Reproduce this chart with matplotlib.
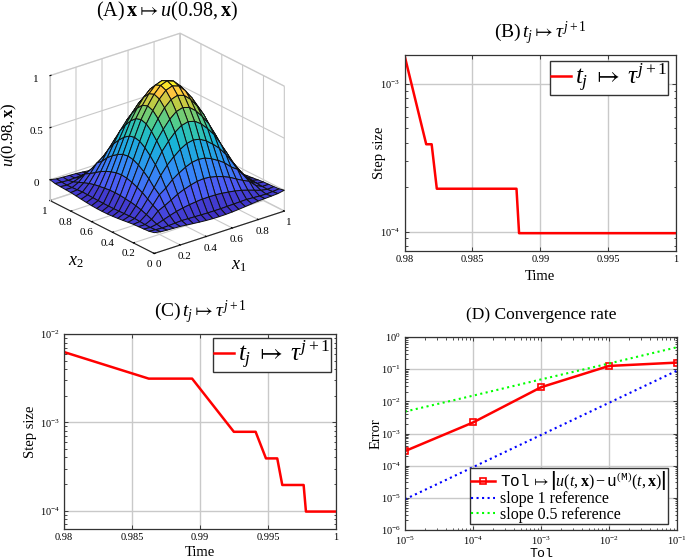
import numpy as np
import matplotlib
matplotlib.use('Agg')
import matplotlib.pyplot as plt
from matplotlib.colors import LinearSegmentedColormap, Normalize
from matplotlib.ticker import LogLocator, NullFormatter

plt.rcParams['font.family'] = ['Liberation Serif', 'DejaVu Serif']
plt.rcParams['mathtext.fontset'] = 'custom'
plt.rcParams['mathtext.rm'] = 'Liberation Serif'
plt.rcParams['mathtext.it'] = 'Liberation Serif:italic'
plt.rcParams['mathtext.bf'] = 'Liberation Serif:bold'
plt.rcParams['mathtext.tt'] = 'Liberation Mono'
plt.rcParams['mathtext.fallback'] = 'stix'

W, H = 685, 559
GRID = '#c9c9c9'

# panel A, one quarter of the surface (edge -> centre)
u_quarter = np.array([
    [0.000, -.012, -.016, -.019, -.022, -.028, -.035, -.041, -.046, -.049, -.050],
    [-.012, -.018, -.022, -.020, -.016, -.012, -.014, -.016, -.018, -.020, -.020],
    [-.016, -.022, -.011, 0.010, 0.031, 0.050, 0.064, 0.074, 0.082, 0.088, 0.090],
    [-.019, -.020, 0.010, 0.070, 0.100, 0.134, 0.170, 0.197, 0.219, 0.234, 0.240],
    [-.022, -.016, 0.031, 0.100, 0.180, 0.224, 0.284, 0.328, 0.365, 0.391, 0.400],
    [-.028, -.012, 0.050, 0.134, 0.224, 0.320, 0.398, 0.459, 0.511, 0.547, 0.560],
    [-.035, -.014, 0.064, 0.170, 0.284, 0.398, 0.504, 0.582, 0.648, 0.694, 0.710],
    [-.041, -.016, 0.074, 0.197, 0.328, 0.459, 0.582, 0.672, 0.748, 0.801, 0.820],
    [-.046, -.018, 0.082, 0.219, 0.365, 0.511, 0.648, 0.748, 0.832, 0.891, 0.912],
    [-.049, -.020, 0.088, 0.234, 0.391, 0.547, 0.694, 0.801, 0.891, 0.955, 0.977],
    [-.050, -.020, 0.090, 0.240, 0.400, 0.560, 0.710, 0.820, 0.912, 0.977, 1.000],
])
x_grid = np.linspace(0, 1, 21)
left_half = np.vstack([u_quarter, u_quarter[-2::-1]])
u_surface = np.hstack([left_half, left_half[:, -2::-1]])

# panel B
t_b = [0.98, 0.9816, 0.982, 0.98238, 0.98825, 0.98844, 1.0]
tau_b = [1.5625e-3, 3.906e-4, 3.906e-4, 1.953e-4, 1.953e-4, 9.766e-5, 9.766e-5]

# panel C
t_c = [0.98, 0.98623, 0.98942, 0.99249, 0.99409, 0.99485, 0.99568, 0.99605, 0.99762, 0.99779, 1.0]
tau_c = [6.25e-3, 3.125e-3, 3.125e-3, 7.8125e-4, 7.8125e-4, 3.906e-4, 3.906e-4, 1.953e-4, 1.953e-4,
         9.766e-5, 9.766e-5]

# panel D
tol = [1e-5, 1e-4, 1e-3, 1e-2, 1e-1]
err = [2.84e-4, 2.2e-3, 2.74e-2, 0.126, 0.16]
slope_1 = [9e-6, 9e-5, 9e-4, 9e-3, 9e-2]
slope_05 = [4.8e-3, 1.5e-2, 4.8e-2, 0.15, 0.48]

time_ticks = [0.98, 0.985, 0.99, 0.995, 1]
time_labels = ['0.98', '0.985', '0.99', '0.995', '1']
unit_ticks = [0, 0.2, 0.4, 0.6, 0.8, 1]
unit_labels = ['0', '0.2', '0.4', '0.6', '0.8', '1']

parula = LinearSegmentedColormap.from_list('parula', [
    (0.0, (0.24, 0.17, 0.74)), (0.13, (0.30, 0.35, 0.96)), (0.3, (0.20, 0.55, 0.97)),
    (0.5, (0.09, 0.71, 0.84)), (0.65, (0.26, 0.80, 0.60)), (0.8, (0.70, 0.80, 0.27)),
    (0.9, (1.0, 0.77, 0.25)), (1.0, (0.98, 0.98, 0.12))])


def px_axes(left, top, right, bottom, **kw):
    return fig.add_axes([left / W, 1 - bottom / H, (right - left) / W, (bottom - top) / H], **kw)


def style_log(ax):
    ax.set_yscale('log')
    ax.grid(True, which='major', color=GRID, lw=1)
    ax.set_axisbelow(True)
    ax.tick_params(which='both', direction='in', top=True, right=True, labelsize=7.5, pad=3,
                   length=3, width=0.5)
    ax.tick_params(which='minor', length=1.8)
    for s in ax.spines.values():
        s.set_linewidth(0.9)
        s.set_color('#333333')


def step_panel(ax, t, tau, ylim, legend_box, ypad, xpad):
    ax.plot(t, tau, color='#ff0000', lw=1.8, label=r'$t_j\;\mapsto\;\tau^{j+1}$')
    style_log(ax)
    ax.set_xlim(0.98, 1)
    ax.set_ylim(*ylim)
    ax.set_xticks(time_ticks)
    ax.set_xticklabels(time_labels)
    ax.set_xlabel('Time', fontsize=10.5, labelpad=xpad)
    ax.set_ylabel('Step size', fontsize=10.5, labelpad=ypad)
    ax.legend(loc='upper right', bbox_to_anchor=legend_box, fontsize=18, fancybox=False, framealpha=1,
              edgecolor='#333333', handlelength=0.8, handletextpad=0.15, borderpad=0.03,
              borderaxespad=0)


fig = plt.figure(figsize=(W / 100, H / 100), dpi=100)

# (A) surface
ax3 = px_axes(8.5, 12, 318.5, 282, projection='3d', proj_type='ortho')
ax3.patch.set_alpha(0)
X1, X2 = np.meshgrid(x_grid, x_grid)
ax3.plot_surface(X1, X2, u_surface, facecolors=parula(Normalize(-0.07, 1)(u_surface)), shade=False,
                 rcount=21, ccount=21, edgecolor='#101010', linewidth=0.7, antialiased=True)
ax3.set_xlim(0, 1, view_margin=0)
ax3.set_ylim(0, 1, view_margin=0)
ax3.set_zlim(-0.2, 1, view_margin=0)
ax3.view_init(elev=24, azim=-128.7)
ax3.set_box_aspect((1, 1, 0.82), zoom=0.98)
ax3.set_xticks(unit_ticks)
ax3.set_xticklabels(unit_labels)
ax3.set_yticks(unit_ticks)
ax3.set_yticklabels(unit_labels)
ax3.set_zticks([0, 0.5, 1])
ax3.set_zticklabels(['0', '0.5', '1'])
ax3.tick_params(labelsize=8, pad=-4)
ax3.tick_params(axis='z', pad=-2)
for axis in (ax3.xaxis, ax3.yaxis, ax3.zaxis):
    axis.pane.set_facecolor('white')
    axis.pane.set_edgecolor(GRID)
    axis._axinfo['grid']['color'] = GRID
    axis._axinfo['grid']['linewidth'] = 0.8
    axis._axinfo['tick']['inward_factor'] = 0.0
    axis._axinfo['tick']['outward_factor'] = 0.1
ax3.xaxis.line.set_color('#222222')
ax3.yaxis.line.set_color('#222222')
ax3.zaxis.line.set_color(GRID)
fig.text(239 / W, 1 - 266 / H, r'$x_1$', fontsize=13, ha='center', va='center')
fig.text(76 / W, 1 - 262 / H, r'$x_2$', fontsize=13, ha='center', va='center')
fig.text(9 / W, 1 - 135 / H, r'$u(0.98,\mathbf{x})$', fontsize=12, rotation=90, ha='center', va='center')
fig.text(167 / W, 1 - 11 / H, r'$(\mathrm{A})\,\mathbf{x}\mapsto u(0.98,\mathbf{x})$', fontsize=14.5,
         ha='center', va='center')

# (B)
ax_b = px_axes(404.5, 55, 676, 251)
step_panel(ax_b, t_b, tau_b, (7.4e-5, 1.57e-3), (0.97, 0.97), -4, 4)
fig.text(540 / W, 1 - 33 / H, r'$(\mathrm{B})\,t_j\mapsto\tau^{j+1}$', fontsize=14, ha='center', va='center')

# (C)
ax_c = px_axes(64, 334, 336, 529)
step_panel(ax_c, t_c, tau_c, (6.2e-5, 1e-2), (0.98, 0.98), 2, 3)
fig.text(200 / W, 1 - 312 / H, r'$(\mathrm{C})\,t_j\mapsto\tau^{j+1}$', fontsize=14, ha='center', va='center')

# (D)
ax_d = px_axes(405, 337, 677, 530)
ax_d.plot(tol, err, color='#ff0000', lw=1.8, marker='s', ms=5, mfc='none', mew=1.2,
          label=r'$\mathtt{Tol}\,\mapsto\left|u(t,\mathbf{x})-\mathtt{u}^{(\mathtt{M})}(t,\mathbf{x})\right|$')
ax_d.plot(tol, slope_1, color='#0000ff', lw=1.5, ls=':', label='slope 1 reference')
ax_d.plot(tol, slope_05, color='#00ff00', lw=1.5, ls=':', label='slope 0.5 reference')
ax_d.set_xscale('log')
style_log(ax_d)
ax_d.set_xlim(1e-5, 1e-1)
ax_d.set_ylim(1e-6, 1)
ax_d.set_xticks(tol)
ax_d.xaxis.set_minor_locator(LogLocator(base=10, subs=np.arange(2, 10), numticks=12))
ax_d.xaxis.set_minor_formatter(NullFormatter())
ax_d.yaxis.set_major_locator(LogLocator(base=10, numticks=12))
ax_d.yaxis.set_minor_locator(LogLocator(base=10, subs=np.arange(2, 10), numticks=12))
ax_d.yaxis.set_minor_formatter(NullFormatter())
ax_d.set_xlabel('Tol', family='Liberation Mono', fontsize=9.5, labelpad=1)
ax_d.set_ylabel('Error', fontsize=10.5, labelpad=-1)
ax_d.legend(loc='lower right', bbox_to_anchor=(0.967, 0.03), fontsize=11.5, fancybox=False, framealpha=1,
            edgecolor='#333333', handlelength=1.5, handletextpad=0.3, borderpad=0.1, labelspacing=-0.05,
            borderaxespad=0)
fig.text(541 / W, 1 - 315 / H, '(D) Convergence rate', fontsize=12.5, ha='center', va='center')

fig.savefig('out.png', dpi=100)
